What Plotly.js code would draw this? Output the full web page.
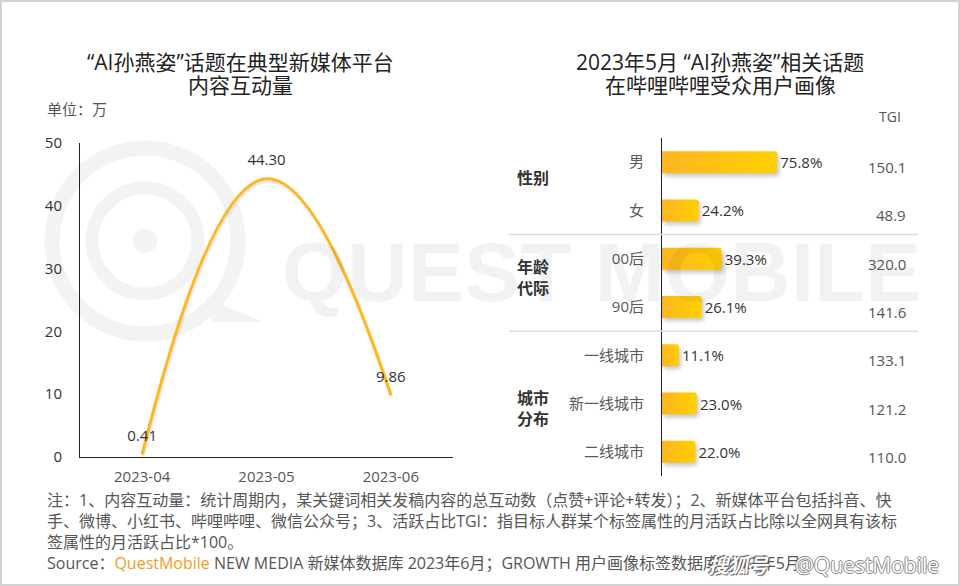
<!DOCTYPE html>
<html>
<head>
<meta charset="utf-8">
<script src="https://cdn.plot.ly/plotly-3.0.1.min.js"></script>
<style>
html,body{margin:0;padding:0;background:#fff;}
#wrap{position:relative;width:960px;height:586px;}
#chart{width:960px;height:586px;}
#frame{position:absolute;left:0;top:0;width:960px;height:586px;box-sizing:border-box;border:2px solid #d2d2d2;pointer-events:none;}
</style>
</head>
<body>
<div id="wrap"><div id="chart"></div><div id="frame"></div></div>
<script>
// ---- data ----
const months = ['2023-04', '2023-05', '2023-06'];
const interactions = [0.41, 44.30, 9.86];

const categories = ['男', '女', '00后', '90后', '一线城市', '新一线城市', '二线城市'];
const shares = [75.8, 24.2, 39.3, 26.1, 11.1, 23.0, 22.0];
const tgi = [150.1, 48.9, 320.0, 141.6, 133.1, 121.2, 110.0];
const groupNames = ['性别', '年龄<br>代际', '城市<br>分布'];

const leftTitle = ['“AI孙燕姿”话题在典型新媒体平台', '内容互动量'];
const rightTitle = ['2023年5月 “AI孙燕姿”相关话题', '在哔哩哔哩受众用户画像'];
const unitLabel = '单位：万';
const notes = [
  '注：1、内容互动量：统计周期内，某关键词相关发稿内容的总互动数（点赞+评论+转发）；2、新媒体平台包括抖音、快',
  '手、微博、小红书、哔哩哔哩、微信公众号；3、活跃占比TGI：指目标人群某个标签属性的月活跃占比除以全网具有该标',
  '签属性的月活跃占比*100。'
];

// ---- helpers (pixel -> paper, margins are zero) ----
const W = 960, H = 586;
const px = x => x / W;
const py = y => 1 - y / H;
const FONT = '"Open Sans", "Noto Sans CJK SC", sans-serif';

const lineTrace = {
  type: 'scatter',
  x: months, y: interactions,
  xaxis: 'x', yaxis: 'y',
  mode: 'lines+markers+text',
  line: {color: '#FFB81C', width: 3, shape: 'spline', smoothing: 1.3},
  marker: {size: 14, color: 'rgba(0,0,0,0)'},
  text: interactions,
  texttemplate: '%{y:.2f}',
  textposition: 'top center',
  textfont: {family: FONT, size: 15, color: '#333'},
  cliponaxis: false,
  hoverinfo: 'skip'
};

const barTrace = {
  type: 'bar',
  orientation: 'h',
  x: shares, y: categories,
  xaxis: 'x2', yaxis: 'y2',
  marker: {color: '#FEC214', cornerradius: 3},
  texttemplate: '%{x:.1f}%',
  textposition: 'outside',
  constraintext: 'none',
  textfont: {family: FONT, size: 15, color: '#333'},
  cliponaxis: false,
  hoverinfo: 'skip'
};

const ann = [];
function addText(text, x, y, opts) {
  ann.push(Object.assign({
    text: text, xref: 'paper', yref: 'paper', x: px(x), y: py(y),
    showarrow: false, xanchor: 'center', yanchor: 'middle',
    font: {family: FONT, size: 15, color: '#555'}
  }, opts || {}));
}

// watermark
addText('QUEST MOBILE', 601, 272, {font: {family: '"Liberation Sans", Arial, sans-serif', size: 84, color: 'rgba(0,0,0,0.05)', weight: 'bold'}});

// titles
addText(leftTitle[0], 240, 62, {font: {family: FONT, size: 21, color: '#222'}});
addText(leftTitle[1], 240, 85, {font: {family: FONT, size: 21, color: '#222'}});
addText(rightTitle[0], 720, 62, {font: {family: FONT, size: 21, color: '#222'}});
addText(rightTitle[1], 720, 85, {font: {family: FONT, size: 21, color: '#222'}});
addText(unitLabel, 45, 109, {xanchor: 'left'});
addText('TGI', 890, 117, {font: {family: FONT, size: 14, color: '#555'}});

// group labels
const groupY = [178, 277, 408];
groupNames.forEach((g, i) => addText('<b>' + g + '</b>', 533, groupY[i], {font: {family: FONT, size: 16, color: '#333'}}));

// TGI values
categories.forEach((c, i) => ann.push({
  text: tgi[i].toFixed(1), xref: 'paper', yref: 'y2', x: px(908), y: c, yshift: -5,
  showarrow: false, xanchor: 'right', yanchor: 'middle',
  font: {family: FONT, size: 15, color: '#555'}
}));

// footer
const noteY = [500, 521, 542];
notes.forEach((t, i) => addText(t, 45, noteY[i], {xanchor: 'left', font: {family: FONT, size: 16, color: '#555'}}));
addText('Source：<span style="color:#F89B1C">QuestMobile</span> NEW MEDIA 新媒体数据库 2023年6月；GROWTH 用户画像标签数据库 2023年5月', 45, 563, {xanchor: 'left', font: {family: FONT, size: 16, color: '#555'}});
addText('<b><i>搜狐号</i></b>', 739, 565, {font: {family: FONT, size: 20, color: '#fff', shadow: '1px 1px 1px #555, -1px -1px 1px #555'}});
addText('@QuestMobile', 867, 565, {font: {family: FONT, size: 21, color: '#fff', shadow: '1px 0 0 #888, -1px 0 0 #888, 0 1px 0 #888, 0 -1px 0 #888'}});

// shapes
const LOGO = '#f3f3f3';
const shapes = [
  {type: 'circle', xref: 'paper', yref: 'paper', layer: 'below', x0: px(52), x1: px(238), y0: py(148), y1: py(334), line: {color: LOGO, width: 15}},
  {type: 'circle', xref: 'paper', yref: 'paper', layer: 'below', x0: px(92), x1: px(198), y0: py(188), y1: py(294), line: {color: LOGO, width: 13}},
  {type: 'circle', xref: 'paper', yref: 'paper', layer: 'below', x0: px(133), x1: px(157), y0: py(229), y1: py(253), fillcolor: LOGO, line: {width: 0}},
  {type: 'path', xref: 'paper', yref: 'paper', layer: 'below',
   path: `M ${px(205)} ${py(298)} L ${px(264)} ${py(322)} L ${px(212)} ${py(322)} Z`, fillcolor: LOGO, line: {width: 0}},
  // separators between groups
  {type: 'line', xref: 'paper', yref: 'y2', x0: px(509), x1: px(918), y0: 1.5, y1: 1.5, line: {color: '#dcdcdc', width: 1.5}},
  {type: 'line', xref: 'paper', yref: 'y2', x0: px(509), x1: px(918), y0: 3.5, y1: 3.5, line: {color: '#dcdcdc', width: 1.5}}
];

const layout = {
  width: W, height: H,
  margin: {l: 0, r: 0, t: 0, b: 0},
  paper_bgcolor: '#fff', plot_bgcolor: 'rgba(0,0,0,0)',
  showlegend: false,
  font: {family: FONT},
  bargap: 0.545,
  xaxis: {
    domain: [px(80), px(453)], anchor: 'y',
    type: 'category', range: [-0.5, months.length - 0.5],
    showgrid: false, zeroline: false,
    showline: true, linecolor: '#222', linewidth: 1,
    ticks: '', ticklabelstandoff: 6,
    tickfont: {family: FONT, size: 15, color: '#555'}
  },
  yaxis: {
    domain: [py(457), py(143)], anchor: 'x',
    range: [0, 50], dtick: 10,
    showgrid: false, zeroline: false,
    showline: true, linecolor: '#222', linewidth: 1,
    ticks: '', ticklabelstandoff: 14,
    tickfont: {family: FONT, size: 15, color: '#333'}
  },
  xaxis2: {
    domain: [px(662), px(662 + 1.52 * 110)], anchor: 'y2',
    range: [0, 110],
    visible: false, showgrid: false, zeroline: false
  },
  yaxis2: {
    domain: [py(476), py(138)], anchor: 'x2',
    type: 'category', autorange: 'reversed',
    showgrid: false, zeroline: false,
    showline: true, linecolor: '#222', linewidth: 1,
    ticks: '', ticklabelstandoff: 14,
    tickfont: {family: FONT, size: 15, color: '#595959'}
  },
  annotations: ann,
  shapes: shapes
};

Plotly.newPlot('chart', [lineTrace, barTrace], layout, {staticPlot: true}).then(() => {
  // horizontal orange->yellow gradient and soft shadow on each bar
  const svg = document.querySelector('#chart svg.main-svg');
  const NS = 'http://www.w3.org/2000/svg';
  let defs = svg.querySelector('defs');
  if (!defs) { defs = document.createElementNS(NS, 'defs'); svg.insertBefore(defs, svg.firstChild); }
  const g = document.createElementNS(NS, 'linearGradient');
  g.setAttribute('id', 'barGrad');
  g.setAttribute('x1', '0'); g.setAttribute('x2', '1'); g.setAttribute('y1', '0'); g.setAttribute('y2', '0');
  [['0', '#FDB523'], ['1', '#FFD000']].forEach(([o, c]) => {
    const s = document.createElementNS(NS, 'stop');
    s.setAttribute('offset', o); s.setAttribute('stop-color', c);
    g.appendChild(s);
  });
  defs.appendChild(g);
  document.querySelectorAll('#chart .barlayer .point path').forEach(p => {
    p.style.fill = 'url(#barGrad)';
    p.style.filter = 'drop-shadow(2px 3px 2px rgba(0,0,0,0.22))';
  });
  document.querySelectorAll('#chart .scatterlayer .js-line').forEach(p => {
    p.style.filter = 'drop-shadow(1px 2px 1px rgba(0,0,0,0.12))';
  });
});
</script>
</body>
</html>
